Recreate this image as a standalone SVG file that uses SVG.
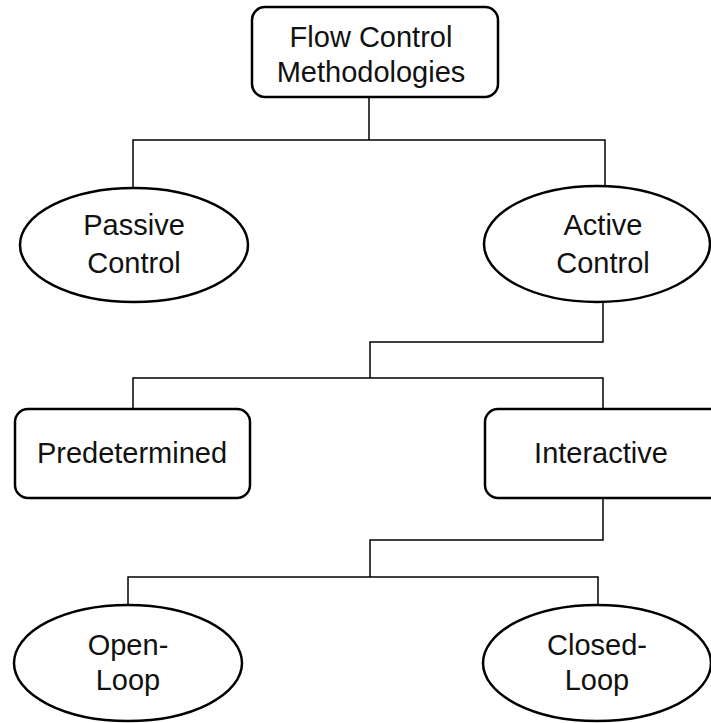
<svg xmlns="http://www.w3.org/2000/svg" width="711" height="723" viewBox="0 0 711 723">
<style>
.box{fill:#fff;stroke:#000;stroke-width:2.5}
.ell{fill:#fff;stroke:#000;stroke-width:2.5}
.ln{fill:none;stroke:#000;stroke-width:1.5}
text{font-family:"Liberation Sans",Arial,sans-serif;font-size:29px;fill:#111;text-anchor:middle}
</style>
<rect width="711" height="723" fill="#fff"/>
<g id="connectors">
<path class="ln" d="M369 97V140M133 188V140H605V186"/>
<path class="ln" d="M603 302V342H370V378M133 409V378H603V409"/>
<path class="ln" d="M603 498V540H370V577M128 605V577H598V605"/>
</g>
<g id="root"><rect class="box" x="252" y="7" width="246" height="90" rx="13"/><text x="371" y="47">Flow Control</text><text x="371" y="82">Methodologies</text></g>
<g id="passive"><ellipse class="ell" cx="134" cy="245" rx="114" ry="57"/><text x="134" y="235">Passive</text><text x="134" y="273">Control</text></g>
<g id="active"><ellipse class="ell" cx="597" cy="244" rx="113" ry="58"/><text x="603" y="235">Active</text><text x="603" y="273">Control</text></g>
<g id="predetermined"><rect class="box" x="15" y="409" width="235" height="89" rx="13"/><text x="132" y="463">Predetermined</text></g>
<g id="interactive"><rect class="box" x="485" y="409" width="240" height="89" rx="13"/><text x="601" y="463">Interactive</text></g>
<g id="openloop"><ellipse class="ell" cx="128" cy="663" rx="114" ry="58"/><text x="128" y="655">Open-</text><text x="128" y="690">Loop</text></g>
<g id="closedloop"><ellipse class="ell" cx="597" cy="663" rx="114" ry="58"/><text x="597" y="655">Closed-</text><text x="597" y="690">Loop</text></g>
</svg>
